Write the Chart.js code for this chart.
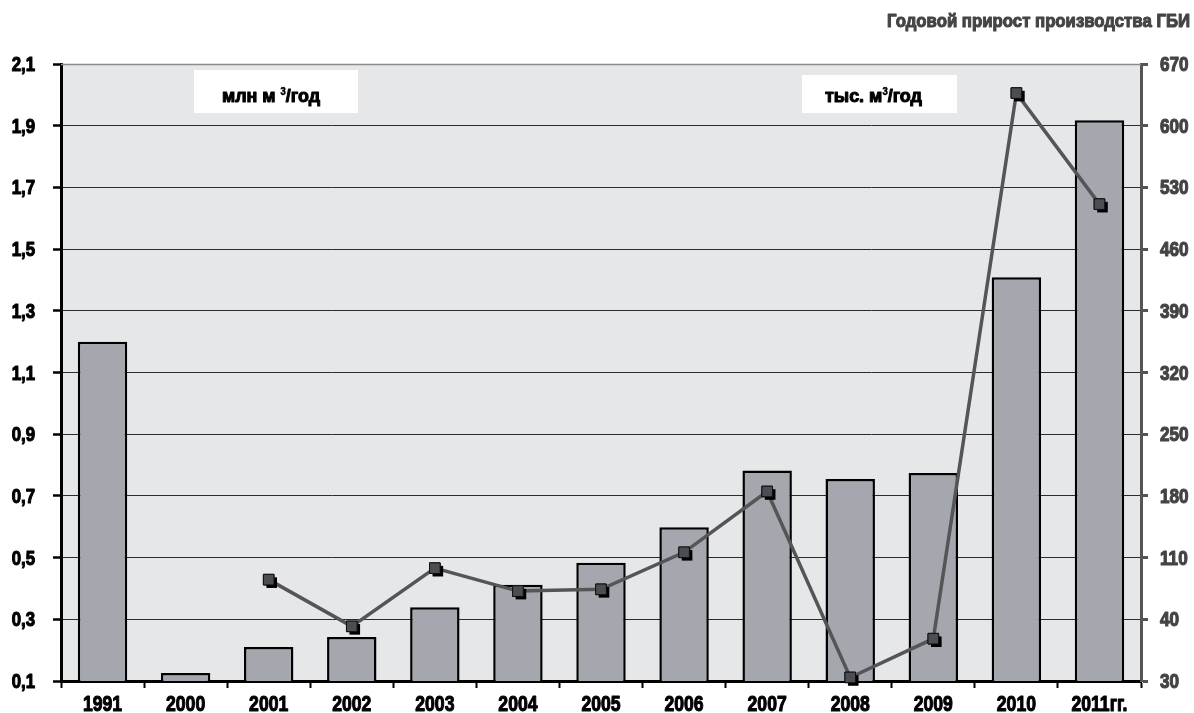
<!DOCTYPE html>
<html>
<head>
<meta charset="utf-8">
<script src="https://cdn.jsdelivr.net/npm/chart.js@4/dist/chart.umd.min.js"></script>
<style>
  html, body { margin: 0; padding: 0; background: #ffffff; }
  #wrap { width: 1194px; height: 713px; }
</style>
</head>
<body>
<div id="wrap"><canvas id="chart" width="1194" height="713"></canvas></div>
<script>
// Годовое производство ГБИ (млн м³/год) и годовой прирост (тыс. м³/год)
const years = ['1991', '2000', '2001', '2002', '2003', '2004', '2005', '2006', '2007', '2008', '2009', '2010', '2011гг.'];
const productionMln = [1.20, 0.126, 0.210, 0.243, 0.339, 0.412, 0.483, 0.598, 0.782, 0.755, 0.774, 1.409, 1.918];
const growthThous = [null, null, 85, 32, 98, 72, 74, 116, 185, -26, 18, 637, 511];
const leftTickLabels = ['0,1', '0,3', '0,5', '0,7', '0,9', '1,1', '1,3', '1,5', '1,7', '1,9', '2,1'];
const rightTickLabels = ['30', '40', '110', '180', '250', '320', '390', '460', '530', '600', '670'];
const titleText = 'Годовой прирост производства ГБИ';
const leftUnit = [['млн м ', false], ['3', true], ['/год', false]];
const rightUnit = [['тыс. м', false], ['3', true], ['/год', false]];

const FONT = "'Liberation Sans', Arial, sans-serif";

// heavy text squeezed horizontally to imitate a black condensed face
function drawNarrow(ctx, text, x, y, size, sx, align, color) {
  ctx.save();
  ctx.font = 'bold ' + size + 'px ' + FONT;
  ctx.fillStyle = color;
  ctx.strokeStyle = color;
  ctx.lineWidth = 1.1;
  ctx.lineJoin = 'round';
  ctx.textAlign = align;
  ctx.textBaseline = 'alphabetic';
  ctx.translate(x, y);
  ctx.scale(sx, 1);
  ctx.fillText(text, 0, 0);
  ctx.strokeText(text, 0, 0);
  ctx.restore();
}

// caption made of normal and superscript runs, fitted to a given width
function drawUnitText(ctx, parts, x, baseline, width) {
  const main = 'bold 19px ' + FONT;
  const sup = 'bold 10px ' + FONT;
  let total = 0;
  parts.forEach(([t, s]) => { ctx.font = s ? sup : main; total += ctx.measureText(t).width; });
  const sx = width / total;
  ctx.save();
  ctx.translate(x, baseline);
  ctx.scale(sx, 1);
  ctx.fillStyle = '#000';
  ctx.strokeStyle = '#000';
  ctx.lineJoin = 'round';
  ctx.textBaseline = 'alphabetic';
  ctx.textAlign = 'left';
  let cx = 0;
  parts.forEach(([t, s]) => {
    ctx.font = s ? sup : main;
    ctx.lineWidth = s ? 0.5 : 1.1;
    ctx.fillText(t, cx, s ? -7 : 0);
    ctx.strokeText(t, cx, s ? -7 : 0);
    cx += ctx.measureText(t).width;
  });
  ctx.restore();
}

// plot background, unit captions, axis labels and title
const decorPlugin = {
  id: 'decor',
  beforeDraw(chart) {
    const { ctx, chartArea: a } = chart;
    ctx.save();
    ctx.fillStyle = '#e6e7e9';
    ctx.fillRect(a.left, a.top, a.right - a.left, a.bottom - a.top);
    ctx.restore();
  },
  beforeDatasetsDraw(chart) {
    const { ctx, chartArea: a } = chart;
    ctx.save();
    ctx.fillStyle = '#ffffff';
    ctx.fillRect(a.left + 133, a.top + 6, 164, 43);
    ctx.fillRect(a.left + 741, a.top + 11, 155, 38);
    ctx.restore();
    drawUnitText(ctx, leftUnit, a.left + 161, a.top + 38, 98);
    drawUnitText(ctx, rightUnit, a.left + 764, a.top + 38, 97);
  },
  afterDraw(chart) {
    const { ctx, chartArea: a, scales } = chart;
    ctx.save();
    ctx.strokeStyle = '#8c8c8c';
    ctx.lineWidth = 1.5;
    ctx.beginPath();
    ctx.moveTo(a.left, a.top + 0.5);
    ctx.lineTo(a.right, a.top + 0.5);
    ctx.stroke();
    ctx.restore();

    // category labels
    const xs = scales.x;
    xs.ticks.forEach((t, i) => {
      drawNarrow(ctx, years[i], xs.getPixelForTick(i), 711, 22, 0.8, 'center', '#000');
    });
    // left value labels
    const yl = scales.y;
    yl.ticks.forEach((t, i) => {
      drawNarrow(ctx, leftTickLabels[i], 35, yl.getPixelForTick(i) + 7, 19.5, 0.86, 'right', '#000');
    });
    // right value labels
    const yr = scales.y2;
    yr.ticks.forEach((t, i) => {
      drawNarrow(ctx, rightTickLabels[i], 1160, yr.getPixelForTick(i) + 7, 19.5, 0.88, 'left', '#444');
    });
    // title fitted to its line
    ctx.save();
    ctx.font = 'bold 19px ' + FONT;
    const tw = ctx.measureText(titleText).width;
    ctx.restore();
    drawNarrow(ctx, titleText, 1190, 27, 19, 303 / tw, 'right', '#444');
  }
};

// square markers with a dark drop shadow
const markerShadow = {
  id: 'markerShadow',
  afterDatasetDraw(chart, args) {
    const meta = args.meta;
    if (meta.type !== 'line') return;
    const ctx = chart.ctx;
    ctx.save();
    meta.data.forEach(pt => {
      if (pt.skip) return;
      const r = pt.options.radius * Math.SQRT1_2;
      ctx.fillStyle = '#000';
      ctx.fillRect(pt.x - r + 3, pt.y - r + 3, 2 * r, 2 * r);
      pt.draw(ctx, chart.chartArea);
    });
    ctx.restore();
  }
};

new Chart(document.getElementById('chart'), {
  data: {
    labels: years,
    datasets: [
      {
        type: 'line',
        label: 'тыс. м³/год',
        data: growthThous,
        yAxisID: 'y2',
        order: 0,
        borderColor: '#555558',
        borderWidth: 3.5,
        pointStyle: 'rect',
        pointRadius: 7.5,
        pointBackgroundColor: '#4d4e53',
        pointBorderColor: '#111',
        pointBorderWidth: 1,
        spanGaps: false,
        tension: 0
      },
      {
        type: 'bar',
        label: 'млн м³/год',
        data: productionMln,
        yAxisID: 'y',
        order: 1,
        backgroundColor: '#a5a7ae',
        borderColor: '#000',
        borderWidth: 2.5,
        borderSkipped: 'start',
        categoryPercentage: 1,
        barPercentage: 0.595
      }
    ]
  },
  options: {
    responsive: false,
    animation: false,
    events: [],
    layout: { padding: { top: 64, left: 0, right: 0, bottom: 0 } },
    plugins: { legend: { display: false }, tooltip: { enabled: false }, title: { display: false } },
    scales: {
      x: {
        type: 'category',
        position: 'bottom',
        afterFit: s => { s.height = 32; },
        border: { color: '#000', width: 3 },
        grid: { offset: true, drawOnChartArea: false, drawTicks: true, tickLength: 7, tickColor: '#000', tickWidth: 2 },
        ticks: { display: false, autoSkip: false, maxRotation: 0 }
      },
      y: {
        type: 'linear',
        position: 'left',
        min: 0.1,
        max: 2.1,
        afterFit: s => { s.width = 61; },
        border: { color: '#000', width: 3 },
        grid: {
          color: c => (c.tick && c.tick.value >= 2.09 ? 'rgba(0,0,0,0)' : '#2b2b2b'),
          lineWidth: 1,
          tickLength: 8,
          tickColor: '#000',
          tickWidth: 2.5
        },
        ticks: { display: false, stepSize: 0.2 }
      },
      y2: {
        type: 'linear',
        position: 'right',
        min: -30,
        max: 670,
        afterFit: s => { s.width = 53; },
        border: { color: '#555', width: 3 },
        grid: { drawOnChartArea: false, tickLength: 7, tickColor: '#555', tickWidth: 3 },
        ticks: { display: false, stepSize: 70 }
      }
    }
  },
  plugins: [decorPlugin, markerShadow]
});
</script>
</body>
</html>
